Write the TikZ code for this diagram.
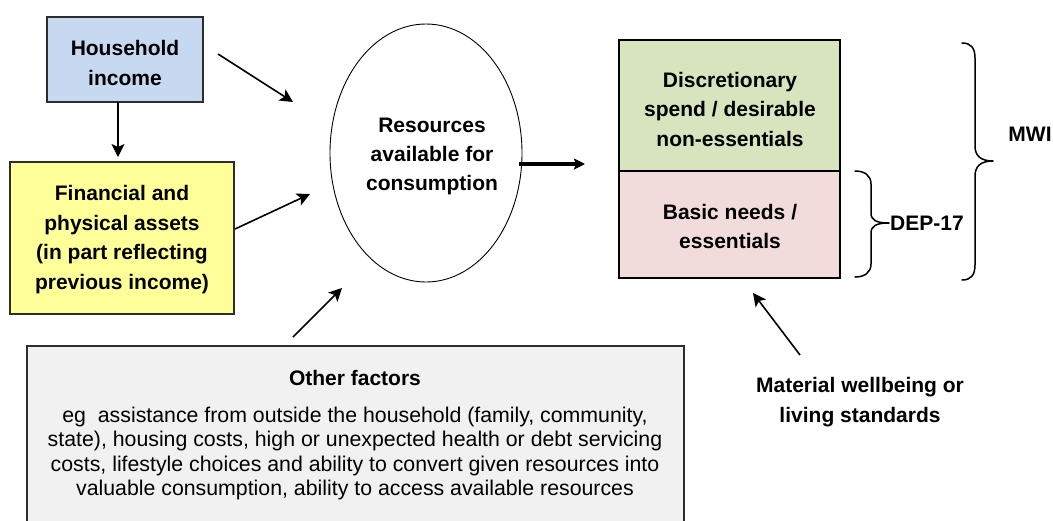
\documentclass[tikz,border=0pt]{standalone}
\usepackage{fontspec}
\setmainfont{Liberation Sans}
\usetikzlibrary{arrows.meta,shapes.geometric}
\definecolor{hhblue}{RGB}{198,217,241}
\definecolor{assetyellow}{RGB}{255,255,153}
\definecolor{discgreen}{RGB}{215,228,189}
\definecolor{basicpink}{RGB}{242,220,219}
\definecolor{othergray}{RGB}{241,241,241}
\definecolor{boxline}{RGB}{45,45,45}
\begin{document}
\begin{tikzpicture}[x=1pt,y=-1pt,
  box/.style={draw=boxline,line width=1.5pt,inner sep=0pt,outer sep=0pt,anchor=north west},
  bt/.style={font=\fontsize{21}{29.6}\selectfont\bfseries,align=center,inner sep=0pt},
  rt/.style={font=\fontsize{21.3}{24.3}\selectfont,align=center,inner sep=0pt},
  arr/.style={line width=1.6pt,-{Stealth[length=13pt,width=13pt,inset=3pt]}},
  thickarr/.style={line width=3.2pt,-{Stealth[length=11pt,width=11pt,inset=2pt]}},
  brace/.style={line width=1.5pt,line cap=round,line join=round},
]
\useasboundingbox (0,0) rectangle (1053,520);

% boxes
\node[box,fill=hhblue,minimum width=156pt,minimum height=85pt] (hh) at (47,17) {};
\node[box,fill=assetyellow,minimum width=224pt,minimum height=152pt] (fa) at (10,162) {};
\node[draw=black,line width=0.9pt,ellipse,inner sep=0pt,minimum width=192pt,minimum height=258pt] (res) at (426,153) {};
\node[box,fill=discgreen,line width=1.2pt,draw=black,minimum width=221pt,minimum height=131pt] (disc) at (619,40) {};
\node[box,fill=basicpink,line width=1.2pt,draw=black,minimum width=221pt,minimum height=107pt] (basic) at (619,171) {};
\node[box,fill=othergray,minimum width=657pt,minimum height=180pt] (other) at (27,346) {};

% texts
\node[bt] (hht) at (125,63) {Household\\income};
\node[bt] (fat) at (122,239.5) {Financial and\\physical assets\\(in part reflecting\\previous income)};
\node[bt,font=\fontsize{21}{28.6}\selectfont\bfseries] (rest) at (432,156.5) {Resources\\available for\\consumption};
\node[bt] (disct) at (730,109.4) {Discretionary\\spend / desirable\\non-essentials};
\node[bt] (basict) at (730,226.4) {Basic needs /\\essentials};
\node[bt] (mwi) at (1030,134) {MWI};
\node[bt] (dep) at (927,223) {DEP-17};
\node[bt,font=\fontsize{21}{30}\selectfont\bfseries] (mat) at (860,402) {Material wellbeing or\\living standards};
\node[bt] (othert) at (355,378) {Other factors};
\node[rt] (otherb) at (355,453.6) {eg\ \ assistance from outside the household (family, community,\\state), housing costs, high or unexpected health or debt servicing\\costs, lifestyle choices and ability to convert given resources into\\valuable consumption, ability to access available resources};

% arrow end points
\coordinate (hh-out) at (218,54);
\coordinate (res-in1) at (293,102);
\coordinate (fa-out) at (235,229);
\coordinate (res-in2) at (310,194);
\coordinate (hh-down) at (118,102);
\coordinate (fa-in) at (118,157);
\coordinate (res-out) at (519,164);
\coordinate (disc-in) at (585,164);
\coordinate (other-out) at (293,337);
\coordinate (res-in3) at (342,288);
\coordinate (mat-out) at (800,355);
\coordinate (basic-in) at (753,293);

\draw[arr] (hh-out) -- (res-in1);
\draw[arr] (fa-out) -- (res-in2);
\draw[arr] (hh-down) -- (fa-in);
\draw[thickarr] (res-out) -- (disc-in);
\draw[arr] (other-out) -- (res-in3);
\draw[arr] (mat-out) -- (basic-in);

% braces
\draw[brace] (962,43) .. controls (971,43) and (975,48) .. (975,58) -- (975,146)
  .. controls (975,156) and (981,161) .. (993,161)
  .. controls (981,161) and (975,166) .. (975,176) -- (975,265)
  .. controls (975,275) and (971,280) .. (962,280);
\draw[brace] (855,171) .. controls (864,171) and (871,175) .. (871,184) -- (871,213)
  .. controls (871,220) and (876,223) .. (889,223)
  .. controls (876,223) and (871,226) .. (871,233) -- (871,264)
  .. controls (871,273) and (864,277) .. (855,277);
\end{tikzpicture}
\end{document}
